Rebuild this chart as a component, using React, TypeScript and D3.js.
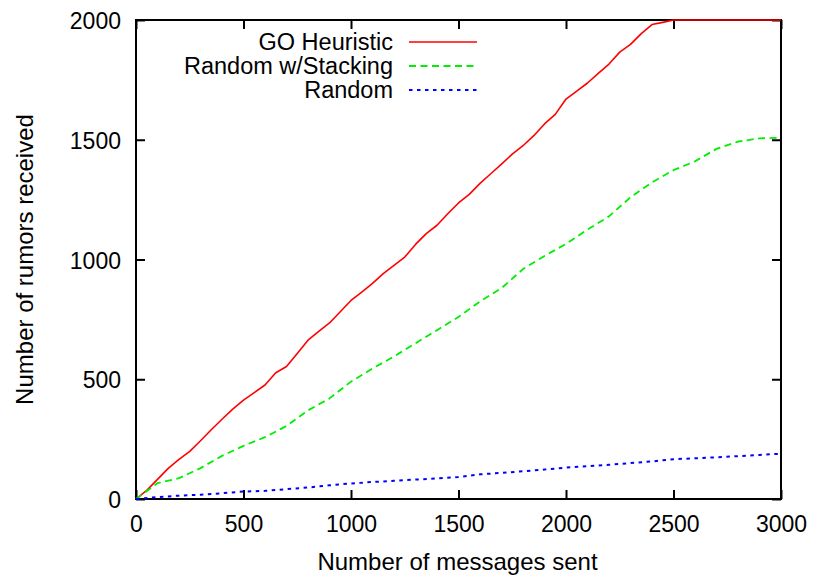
import React, { useEffect, useRef } from "react";
import * as d3 from "d3";

// GO Heuristic (every 50 messages until it saturates)
const goX = [
  0, 50, 100, 150, 200, 250, 300, 350, 400, 450, 500, 550, 600, 650, 700, 750,
  800, 850, 900, 950, 1000, 1050, 1100, 1150, 1200, 1250, 1300, 1350, 1400,
  1450, 1500, 1550, 1600, 1650, 1700, 1750, 1800, 1850, 1900, 1950, 2000, 2050,
  2100, 2150, 2200, 2250, 2300, 2350, 2400, 2450, 2500, 3000,
];
const goY = [
  0, 36, 82, 128, 165, 199, 243, 289, 333, 375, 413, 444, 476, 527, 553, 608,
  663, 700, 735, 782, 829, 864, 900, 941, 975, 1010, 1063, 1108, 1143, 1191,
  1236, 1272, 1318, 1358, 1398, 1440, 1475, 1517, 1566, 1606, 1670, 1703, 1737,
  1777, 1816, 1866, 1898, 1943, 1981, 1990, 2000, 2000,
];

// Random w/Stacking
const stackX = [
  0, 100, 200, 300, 400, 500, 600, 700, 800, 900, 1000, 1100, 1200, 1300, 1400,
  1500, 1600, 1700, 1800, 1900, 2000, 2100, 2200, 2300, 2400, 2500, 2600, 2700,
  2800, 2900, 3000,
];
const stackY = [
  0, 66, 87, 129, 180, 222, 258, 305, 370, 420, 490, 545, 595, 650, 705, 760,
  825, 880, 960, 1015, 1065, 1125, 1180, 1260, 1322, 1373, 1410, 1462, 1492,
  1506, 1508,
];

// Random
const randX = [
  0, 100, 200, 300, 400, 500, 600, 700, 800, 900, 1000, 1100, 1200, 1300, 1400,
  1500, 1600, 1700, 1800, 1900, 2000, 2100, 2200, 2300, 2400, 2500, 2600, 2700,
  2800, 2900, 3000,
];
const randY = [
  0, 8, 14, 18, 24, 31, 34, 41, 48, 57, 65, 71, 76, 81, 86, 92, 103, 109, 116,
  123, 131, 137, 143, 150, 157, 166, 170, 174, 179, 184, 189,
];

const xTicks = [0, 500, 1000, 1500, 2000, 2500, 3000];
const yTicks = [0, 500, 1000, 1500, 2000];
const seriesNames = ["GO Heuristic", "Random w/Stacking", "Random"];
const xTitle = "Number of messages sent";
const yTitle = "Number of rumors received";

const App = () => {
  const svgRef = useRef<SVGSVGElement>(null);

  useEffect(() => {
    const dims = {
      width: 814,
      height: 575,
      margin: { top: 20, right: 33, bottom: 76, left: 136 },
    };
    const innerWidth = dims.width - dims.margin.left - dims.margin.right;
    const innerHeight = dims.height - dims.margin.top - dims.margin.bottom;
    const font = "'Liberation Sans', Arial, Helvetica, sans-serif";

    const xScale = d3.scaleLinear([0, 3000], [0, innerWidth]);
    const yScale = d3.scaleLinear([0, 2000], [innerHeight, 0]);

    const svg = d3.select(svgRef.current);
    svg.selectAll("*").remove();
    svg.append("rect").attr("width", dims.width).attr("height", dims.height).attr("fill", "#fff");

    const g = svg
      .append("g")
      .attr("transform", `translate(${dims.margin.left},${dims.margin.top})`);

    // axes, gnuplot style: ticks inward and mirrored
    const styleAxis = (sel, labels) => {
      sel.select(".domain").remove();
      sel.selectAll(".tick line").attr("stroke", "#000").attr("stroke-width", 2);
      if (labels) {
        sel
          .selectAll(".tick text")
          .attr("font-size", 23)
          .attr("font-family", font)
          .attr("fill", "#000");
      } else {
        sel.selectAll(".tick text").remove();
      }
    };

    g.append("g")
      .attr("transform", `translate(0,${innerHeight})`)
      .call(d3.axisBottom(xScale).tickValues(xTicks).tickSizeInner(-9).tickSizeOuter(0).tickPadding(16.5).tickFormat(d3.format("d")))
      .call((s) => styleAxis(s, true));

    g.append("g")
      .call(d3.axisTop(xScale).tickValues(xTicks).tickSizeInner(-9).tickSizeOuter(0))
      .call((s) => styleAxis(s, false));

    g.append("g")
      .call(d3.axisLeft(yScale).tickValues(yTicks).tickSizeInner(-9).tickSizeOuter(0).tickPadding(15).tickFormat(d3.format("d")))
      .call((s) => styleAxis(s, true))
      .call((s) => s.selectAll(".tick text").attr("dy", "0.37em"));

    g.append("g")
      .attr("transform", `translate(${innerWidth},0)`)
      .call(d3.axisRight(yScale).tickValues(yTicks).tickSizeInner(-9).tickSizeOuter(0))
      .call((s) => styleAxis(s, false));

    // border
    g.append("rect")
      .attr("width", innerWidth)
      .attr("height", innerHeight)
      .attr("fill", "none")
      .attr("stroke", "#000")
      .attr("stroke-width", 2);

    // axis titles
    svg
      .append("text")
      .attr("x", dims.margin.left + innerWidth / 2 - 1)
      .attr("y", 570)
      .attr("text-anchor", "middle")
      .attr("font-size", 24)
      .attr("font-family", font)
      .text(xTitle);

    svg
      .append("text")
      .attr("transform", `translate(33,${dims.margin.top + innerHeight / 2}) rotate(-90)`)
      .attr("text-anchor", "middle")
      .attr("font-size", 24)
      .attr("font-family", font)
      .text(yTitle);

    const series = [
      { name: seriesNames[0], xs: goX, ys: goY, color: "#ff0000", width: 1.6, dash: null },
      { name: seriesNames[1], xs: stackX, ys: stackY, color: "#00ee00", width: 1.8, dash: "7,4.5" },
      { name: seriesNames[2], xs: randX, ys: randY, color: "#0000ff", width: 2, dash: "3.5,4.5" },
    ];

    series.forEach((s) => {
      const pts = s.xs.map((x, i) => [xScale(x), yScale(s.ys[i])] as [number, number]);
      g.append("path")
        .attr("fill", "none")
        .attr("stroke", s.color)
        .attr("stroke-width", s.width)
        .attr("stroke-dasharray", s.dash)
        .attr("stroke-linejoin", "round")
        .attr("d", d3.line().curve(d3.curveLinear)(pts));
    });

    // legend
    const legendRow = d3.scaleBand(seriesNames, [30, 102]);
    const legend = svg.append("g");
    series.forEach((s) => {
      const cy = legendRow(s.name) + legendRow.bandwidth() / 2;
      legend
        .append("text")
        .attr("x", 393)
        .attr("y", cy + 8)
        .attr("text-anchor", "end")
        .attr("font-size", 23.5)
        .attr("font-family", font)
        .text(s.name);
      legend
        .append("line")
        .attr("x1", 409)
        .attr("x2", 477)
        .attr("y1", cy)
        .attr("y2", cy)
        .attr("stroke", s.color)
        .attr("stroke-width", s.width)
        .attr("stroke-dasharray", s.dash);
    });
  }, []);

  return (
    <svg
      ref={svgRef}
      width={814}
      height={575}
      style={{ position: "absolute", left: 0, top: 0, display: "block" }}
    />
  );
};

export default App;
